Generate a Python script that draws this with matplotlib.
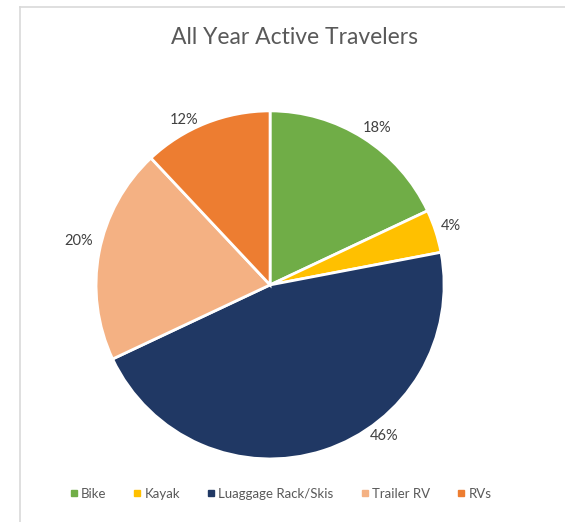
import numpy as np
import matplotlib
matplotlib.use("Agg")
import matplotlib.pyplot as plt
from matplotlib.lines import Line2D

categories = ["Bike", "Kayak", "Luaggage Rack/Skis", "Trailer RV", "RVs"]
shares = [18, 4, 46, 20, 12]
colors = ["#70AD47", "#FFC000", "#203864", "#F4B183", "#ED7D31"]
# angle shift (deg) for labels that sit off the slice middle
label_shift = [-2, 0, 19, -2, 6]
label_dist = [1.09, 1.09, 1.09, 1.13, 1.07]

plt.rcParams["font.family"] = ["Lato", "DejaVu Sans"]

fig = plt.figure(figsize=(5.65, 5.22), dpi=100, facecolor="white")

# chart frame (only left and top edges are inside the image)
fig.add_artist(Line2D([20 / 565, 20 / 565], [0, 1 - 7 / 522], color="#D9D9D9", lw=1.2))
fig.add_artist(Line2D([20 / 565, 1], [1 - 7 / 522, 1 - 7 / 522], color="#D9D9D9", lw=1.2))

ax = fig.add_axes([0.170, 0.1207, 0.616, 0.667])
wedges, _ = ax.pie(
    shares, colors=colors, startangle=90, counterclock=False,
    wedgeprops=dict(edgecolor="white", linewidth=2),
)
ax.set_xlim(-1, 1)
ax.set_ylim(-1, 1)
ax.set_aspect("equal")
for w, v, sh, d in zip(wedges, shares, label_shift, label_dist):
    ang = np.deg2rad((w.theta1 + w.theta2) / 2 + sh)
    ax.text(d * np.cos(ang), d * np.sin(ang), f"{v}%", ha="center", va="center",
            fontsize=10.5, color="#404040", clip_on=False)

fig.text(0.522, 1 - 38 / 522, "All Year Active Travelers", ha="center", va="center",
         fontsize=16.5, color="#595959")

handles = [Line2D([], [], marker="s", linestyle="none", markersize=5,
                  markerfacecolor=c, markeredgecolor=c) for c in colors]
fig.legend(handles, categories, loc="center", bbox_to_anchor=(0.497, 1 - 494 / 522),
           ncol=5, frameon=False, fontsize=9.5, labelcolor="#595959",
           handletextpad=0.3, columnspacing=2.1, handlelength=0.5)

fig.savefig("out.png", dpi=100, facecolor="white")
